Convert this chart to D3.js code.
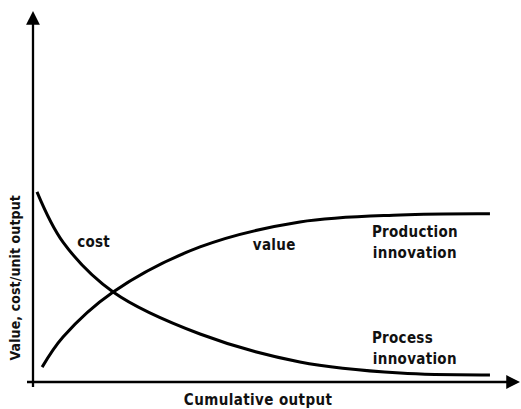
<!DOCTYPE html>
<html>
<head>
<meta charset="utf-8">
<script src="https://d3js.org/d3.v7.min.js"></script>
<style>
  body { margin: 0; background: #fff; }
  text { font-family: "DejaVu Sans Condensed", "DejaVu Sans", sans-serif; font-weight: bold; fill: #111; }
</style>
</head>
<body>
<svg id="chart" width="521" height="409"></svg>
<script>
// cumulative output (0-100) and curve heights (0-100)
const valueX = [1.9, 6.25, 16.7, 34.8, 55.6, 76.5, 95.2];
const valueY = [4.0, 12.1, 24.2, 36.3, 43.0, 44.9, 45.2];
const costX  = [0.83, 6.25, 16.7, 34.8, 55.6, 76.5, 95.2];
const costY  = [51.1, 37.6, 24.2, 12.9, 5.4, 2.4, 1.9];

const labels = [
  { text: "cost", x: 9.2, y: 36.3 },
  { text: "value", x: 45.8, y: 35.5 },
  { text: "Production", x: 70.6, y: 38.9 },
  { text: "innovation", x: 70.8, y: 33.2 },
  { text: "Process", x: 70.6, y: 10.6 },
  { text: "innovation", x: 70.8, y: 4.8 }
];

const svg = d3.select("#chart");
const x = d3.scaleLinear().domain([0, 100]).range([33, 513]);
const y = d3.scaleLinear().domain([0, 100]).range([382, 10]);

const defs = svg.append("defs");
defs.append("marker")
  .attr("id", "arrow")
  .attr("viewBox", "0 0 10 10")
  .attr("refX", 2).attr("refY", 5)
  .attr("markerWidth", 6).attr("markerHeight", 6)
  .attr("markerUnits", "strokeWidth")
  .attr("orient", "auto")
  .append("path")
  .attr("d", "M0,0 L10,5 L0,10 Z")
  .attr("fill", "#000");

// axes
svg.append("line")
  .attr("x1", x(0)).attr("y1", y(0) + 5)
  .attr("x2", x(0)).attr("y2", y(100) + 12)
  .attr("stroke", "#000").attr("stroke-width", 2.3)
  .attr("marker-end", "url(#arrow)");
svg.append("line")
  .attr("x1", x(0) - 6).attr("y1", y(0))
  .attr("x2", x(100) - 4).attr("y2", y(0))
  .attr("stroke", "#000").attr("stroke-width", 2.3)
  .attr("marker-end", "url(#arrow)");

const line = d3.line()
  .x(d => x(d[0]))
  .y(d => y(d[1]))
  .curve(d3.curveCatmullRom.alpha(0.5));

svg.append("path")
  .datum(d3.zip(valueX, valueY))
  .attr("d", line)
  .attr("fill", "none").attr("stroke", "#000").attr("stroke-width", 3);

svg.append("path")
  .datum(d3.zip(costX, costY))
  .attr("d", line)
  .attr("fill", "none").attr("stroke", "#000").attr("stroke-width", 3);

svg.selectAll("text.lbl")
  .data(labels)
  .enter().append("text")
  .attr("class", "lbl")
  .attr("x", d => x(d.x))
  .attr("y", d => y(d.y))
  .attr("font-size", 15)
  .attr("letter-spacing", 0.3)
  .text(d => d.text);

svg.append("text")
  .attr("x", x(46.9)).attr("y", 405)
  .attr("text-anchor", "middle")
  .attr("font-size", 15)
  .attr("letter-spacing", 0.4)
  .text("Cumulative output");

svg.append("text")
  .attr("transform", `translate(20, ${y(28)}) rotate(-90)`)
  .attr("text-anchor", "middle")
  .attr("font-size", 14)
  .attr("letter-spacing", 0.1)
  .text("Value, cost/unit output");
</script>
</body>
</html>
